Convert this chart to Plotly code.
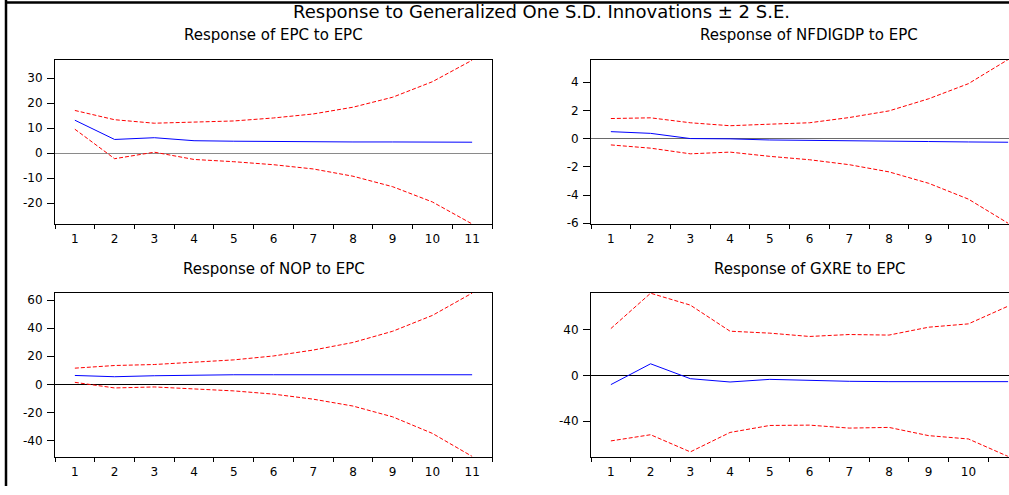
import plotly.graph_objects as go

W, H = 1009, 495

periods = list(range(1, 12))
period_labels = [str(p) for p in periods]

# Response of EPC to EPC
epc_resp = [13.2, 5.5, 6.2, 5.0, 4.8, 4.6, 4.5, 4.5, 4.5, 4.5, 4.4]
epc_up = [17.1, 13.4, 12.0, 12.5, 12.9, 14.1, 15.7, 18.4, 22.4, 28.6, 37.2]
epc_lo = [9.6, -2.2, 0.4, -2.5, -3.4, -4.6, -6.3, -9.2, -13.4, -19.5, -28.3]
epc_ticks = [-20, -10, 0, 10, 20, 30]

# Response of NFDIGDP to EPC
nfdi_resp = [0.49, 0.37, 0.0, -0.02, -0.10, -0.14, -0.17, -0.19, -0.21, -0.24, -0.26]
nfdi_up = [1.42, 1.47, 1.12, 0.91, 1.02, 1.12, 1.49, 1.96, 2.82, 3.89, 5.6]
nfdi_lo = [-0.45, -0.68, -1.08, -0.96, -1.26, -1.50, -1.85, -2.36, -3.17, -4.29, -6.0]
nfdi_ticks = [-6, -4, -2, 0, 2, 4]

# Response of NOP to EPC
nop_resp = [6.3, 5.4, 6.1, 6.6, 6.8, 6.8, 6.8, 6.8, 6.8, 6.8, 6.8]
nop_up = [11.5, 13.4, 14.1, 15.7, 17.4, 20.2, 24.4, 29.8, 37.8, 49.1, 65.0]
nop_lo = [1.4, -2.6, -1.9, -3.5, -4.7, -7.0, -10.6, -15.5, -23.2, -35.0, -51.4]
nop_ticks = [-40, -20, 0, 20, 40, 60]

# Response of GXRE to EPC
gxre_resp = [-8.1, 10.1, -2.9, -5.8, -3.5, -4.6, -5.2, -5.5, -5.5, -5.5, -5.5]
gxre_up = [40.9, 71.8, 61.4, 38.6, 36.9, 34.0, 35.7, 35.2, 42.1, 45.0, 60.5]
gxre_lo = [-57.3, -51.9, -66.9, -49.9, -43.8, -43.5, -46.1, -45.5, -52.7, -55.6, -70.9]
gxre_ticks = [-40, 0, 40]

main_title = "Response to Generalized One S.D. Innovations \u00b1 2 S.E."
panel_titles = ["Response of EPC to EPC", "Response of NFDIGDP to EPC",
                "Response of NOP to EPC", "Response of GXRE to EPC"]

FONT = "DejaVu Sans"

# layout geometry (pixels)
left_l, left_r = 55, 492
right_l = 591
unit = (left_r - left_l) / 11.0
top_t, top_b = 60.7, 226.7
bot_t, bot_b = 296.7, 462.3

def px_x(v):
    return v / W

def px_y(v):
    return 1 - v / H

panels = [
    dict(resp=epc_resp, up=epc_up, lo=epc_lo, yr=[-28.3, 37.3], yt=epc_ticks,
         xd=[px_x(left_l), px_x(left_r)], yd=[px_y(top_b), px_y(top_t)],
         xr=[0.5, 11.5], zc="#8a8a8a", right=False),
    dict(resp=nfdi_resp, up=nfdi_up, lo=nfdi_lo, yr=[-6.05, 5.57], yt=nfdi_ticks,
         xd=[px_x(right_l), 1.0], yd=[px_y(top_b), px_y(top_t)],
         xr=[0.5, 0.5 + (W - right_l) / unit], zc="#6a6a6a", right=True),
    dict(resp=nop_resp, up=nop_up, lo=nop_lo, yr=[-51.6, 65.0], yt=nop_ticks,
         xd=[px_x(left_l), px_x(left_r)], yd=[px_y(bot_b), px_y(bot_t)],
         xr=[0.5, 11.5], zc="#000000", right=False),
    dict(resp=gxre_resp, up=gxre_up, lo=gxre_lo, yr=[-71.1, 71.9], yt=gxre_ticks,
         xd=[px_x(right_l), 1.0], yd=[px_y(bot_b), px_y(bot_t)],
         xr=[0.5, 0.5 + (W - right_l) / unit], zc="#000000", right=True),
]

fig = go.Figure()
layout = {}
for i, p in enumerate(panels):
    n = i + 1
    xa = "x" if n == 1 else f"x{n}"
    ya = "y" if n == 1 else f"y{n}"
    for ys, color, dash in [(p["up"], "#ff0000", "4px,2px"),
                            (p["lo"], "#ff0000", "4px,2px"),
                            (p["resp"], "#0000ff", "solid")]:
        fig.add_trace(go.Scatter(x=periods, y=ys, mode="lines", xaxis=xa, yaxis=ya,
                                 line=dict(color=color, width=1, dash=dash),
                                 showlegend=False, hoverinfo="skip"))
    layout["xaxis" if n == 1 else f"xaxis{n}"] = dict(
        domain=p["xd"], range=p["xr"], anchor=ya,
        tickmode="array", tickvals=periods, ticktext=period_labels,
        ticks="outside", ticklen=4, tickcolor="rgba(0,0,0,0)",
        minor=dict(tickmode="array", tickvals=[v + 0.5 for v in [0] + periods],
                   ticks="outside", ticklen=4, tickcolor="#000", tickwidth=1),
        showline=True, mirror=True, linecolor="#000", linewidth=1,
        showgrid=False, zeroline=False, ticklabelstandoff=0,
        tickfont=dict(family=FONT, size=12, color="#000"),
    )
    layout["yaxis" if n == 1 else f"yaxis{n}"] = dict(
        domain=p["yd"], range=p["yr"], anchor=xa,
        tickmode="array", tickvals=p["yt"], ticktext=[str(v) for v in p["yt"]],
        ticks="outside", ticklen=7, tickcolor="#000", tickwidth=1,
        showline=True, mirror=(not p["right"]), linecolor="#000", linewidth=1,
        showgrid=False, zeroline=True, zerolinecolor=p["zc"], zerolinewidth=1.2,
        ticklabelstandoff=2,
        tickfont=dict(family=FONT, size=12, color="#000"),
    )

annotations = [dict(text=main_title, xref="paper", yref="paper", x=px_x(541), y=px_y(12),
                    xanchor="center", yanchor="middle", showarrow=False,
                    font=dict(family=FONT, size=18, color="#000"))]
title_pos = [(273.5, 35.5), (809, 35.5), (273.5, 272), (809, 272)]
for t, (cx, cy) in zip(panel_titles, title_pos):
    annotations.append(dict(text=t, xref="paper", yref="paper", x=px_x(cx), y=px_y(cy),
                            xanchor="center", yanchor="middle", showarrow=False,
                            font=dict(family=FONT, size=15, color="#000")))

shapes = [
    dict(type="line", xref="paper", yref="paper", x0=px_x(6), x1=px_x(6),
         y0=px_y(492), y1=1, line=dict(color="#000", width=2.5)),
    dict(type="line", xref="paper", yref="paper", x0=px_x(5), x1=1,
         y0=px_y(2.5), y1=px_y(2.5), line=dict(color="#000", width=2.5)),
]

fig.update_layout(width=W, height=H, margin=dict(l=0, r=0, t=0, b=0),
                  paper_bgcolor="white", plot_bgcolor="white",
                  annotations=annotations, shapes=shapes, **layout)

fig.write_html("out.html")
